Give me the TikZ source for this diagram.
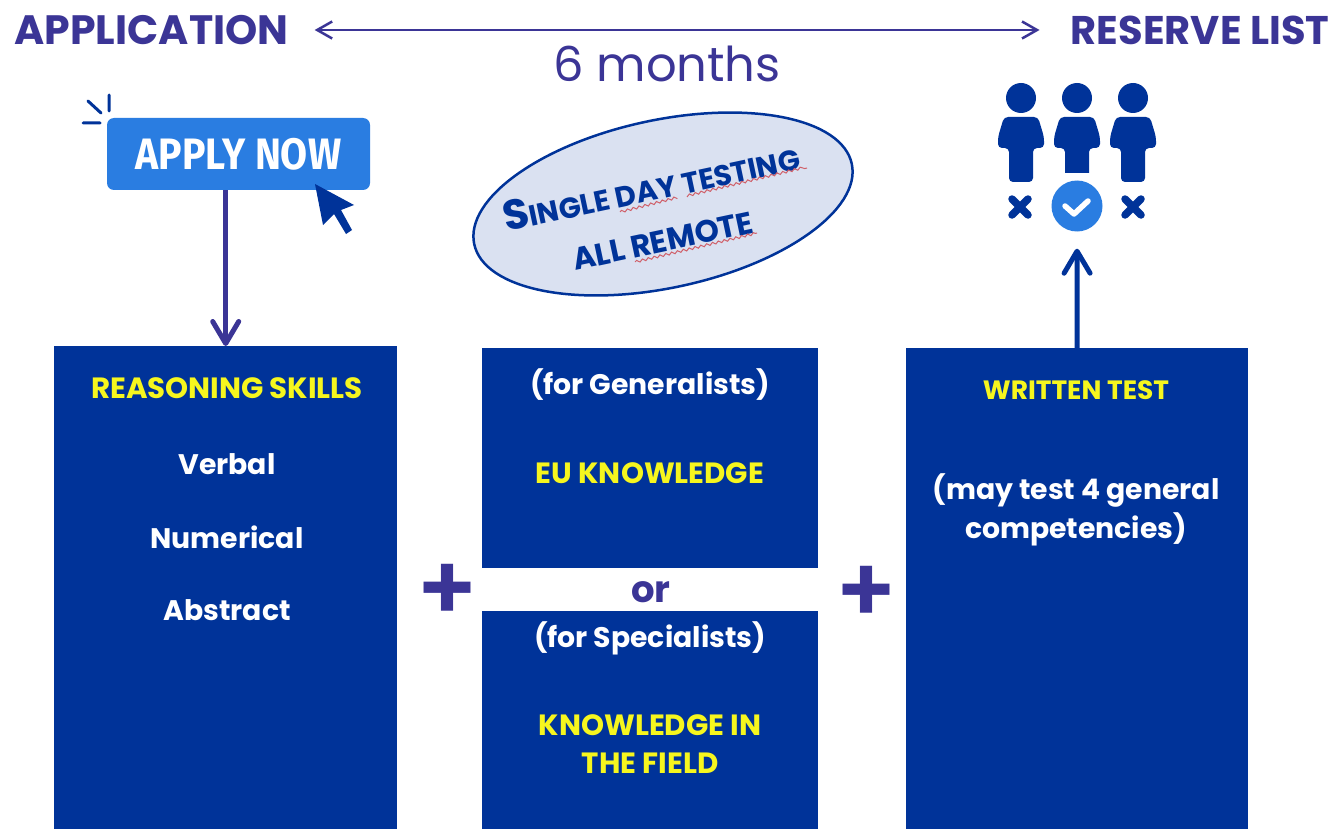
\documentclass[tikz,border=0pt]{standalone}
\usepackage{fontspec}
\setmainfont{Poppins}
\newfontfamily\din{Fira Sans}
\newfontfamily\popsemi{Poppins SemiBold}
\usetikzlibrary{shapes.geometric,arrows.meta,decorations.pathmorphing}
\definecolor{eublue}{HTML}{003399}
\definecolor{purp}{HTML}{3B3596}
\definecolor{btn}{HTML}{2A7DE1}
\definecolor{yel}{HTML}{F6F61E}
\definecolor{pale}{HTML}{DAE1F1}
\definecolor{squigc}{HTML}{D0606A}
\newcommand{\fs}[1]{\fontsize{#1}{#1}\selectfont}
\tikzset{
 x=1pt,y=-1pt,
 panel/.style={fill=eublue,draw=none,inner sep=0,anchor=north west},
 head/.style={text=purp,font=\bfseries\fs{41},inner sep=0},
 ytxt/.style={text=yel,font=\bfseries\fs{29.3},inner sep=0,align=center},
 wtxt/.style={text=white,font=\bfseries\fs{28.3},inner sep=0,align=center},
 plustxt/.style={text=purp,font=\popsemi\fs{92},inner sep=0},
 arr/.style={line width=5pt,-{Straight Barb[length=22pt,width=26pt,line width=5pt,round]}},
 toparr/.style={line width=2.5pt,{Straight Barb[length=15pt,width=17pt,line width=2.5pt]}-{Straight Barb[length=15pt,width=17pt,line width=2.5pt]}},
 person/.style={fill=eublue,draw=none},
 ovaltxt/.style={text=eublue,inner sep=0,font=\bfseries\fs{29},rotate=12},
 squig/.style={draw=squigc,line width=1pt,decorate,decoration={snake,amplitude=1.2pt,segment length=6pt}},
}
\begin{document}
\begin{tikzpicture}
\useasboundingbox (0,0) rectangle (1332,829);
\fill[white] (0,0) rectangle (1332,829);
% panels
\node[panel,minimum width=343pt,minimum height=483pt] (reason) at (54,346) {};
\node[panel,minimum width=336pt,minimum height=220pt] (gen) at (482,348) {};
\node[panel,minimum width=336pt,minimum height=218pt] (spec) at (482,611) {};
\node[panel,minimum width=342pt,minimum height=481pt] (written) at (906,348) {};
% headings
\node[head] (application) at (151.5,30) {APPLICATION};
\node[head,font=\bfseries\fs{40}] (reserve) at (1200,30) {RESERVE LIST};
\node[text=purp,font=\fs{48},inner sep=0] (months) at (667,64) {6 months};
\draw[purp,toparr,shorten <=26pt,shorten >=31pt] (application.east) -- (reserve.west);
% apply button
\node[fill=btn,rounded corners=7pt,minimum width=263pt,minimum height=72pt,inner sep=0,text=white,font=\din\bfseries\fs{44}] (apply) at (238.5,154) {\scalebox{.89}[1]{APPLY NOW}};
\draw[eublue,line width=3pt,line cap=round] (109,95)--(109,111) (88,101)--(101,113) (83,123)--(100,123);
\fill[eublue] (315,184)--(354,205)--(341,210)--(352,230)--(346,234)--(334,214)--(323,225)--cycle;
\draw[arr,purp] (reason.north |- apply.south) -- (reason.north);
% ellipse
\node[ellipse,draw=eublue,fill=pale,line width=2.5pt,minimum width=386pt,minimum height=168pt,rotate=12,inner sep=0] (oval) at (663,204) {};
\node[ovaltxt] (single) at (651,186) {{\fs{42}S}INGLE DAY TESTING};
\node[ovaltxt,font=\bfseries\fs{31}] (remote) at (663,241) {ALL REMOTE};
\draw[squig] (620,212)--(675,198) (687,197)--(807,168);
\draw[squig] (635,262)--(757,233);
% people
\foreach \n/\cx in {a/1021,b/1077,c/1133}{
 \fill[person] (\cx,98) circle (15);
 \fill[person,rounded corners=4pt] (\cx-12,182)--(\cx-12,148)--(\cx-23,148)--(\cx-23,137)--(\cx-17,117)--(\cx+17,117)--(\cx+23,137)--(\cx+23,148)--(\cx+12,148)--(\cx+12,182)--cycle;
}
\fill[white] (1050,173) rectangle (1104,190);
\draw[eublue,line width=7.5pt,line cap=round] (1012,199)--(1028,215) (1028,199)--(1012,215) (1125,199)--(1141,215) (1141,199)--(1125,215);
\node[circle,fill=btn,minimum size=51pt,inner sep=0] (check) at (1077,206) {};
\draw[white,line width=5.5pt,line cap=round,line join=round] (1065,206)--(1074,214)--(1088,201);
\draw[arr,eublue,shorten >=17pt] (written.north) -- (check.south);
% left panel text
\node[ytxt] (t1) at (227,388) {REASONING SKILLS};
\node[wtxt] (t2) at (227,464) {Verbal};
\node[wtxt] (t3) at (227,537) {Numerical};
\node[wtxt] (t4) at (227,610) {Abstract};
% middle
\node[wtxt] (t5) at (650,385) {(for Generalists)};
\node[ytxt] (t6) at (650,473) {EU KNOWLEDGE};
\node[text=purp,font=\bfseries\fs{37},inner sep=0] (orw) at (651,592) {or};
\node[wtxt] (t7) at (650,638) {(for Specialists)};
\node[ytxt,align=center] (t8) at (650,744) {KNOWLEDGE IN\\[8pt]THE FIELD};
% right
\node[ytxt,font=\bfseries\fs{26.5}] (t9) at (1076,390) {WRITTEN TEST};
\node[wtxt] (t10) at (1076,510) {(may test 4 general\\[5pt]competencies)};
% plus
\node[plustxt] (p1) at (447,592) {+};
\node[plustxt] (p2) at (866,594) {+};
\end{tikzpicture}
\end{document}
